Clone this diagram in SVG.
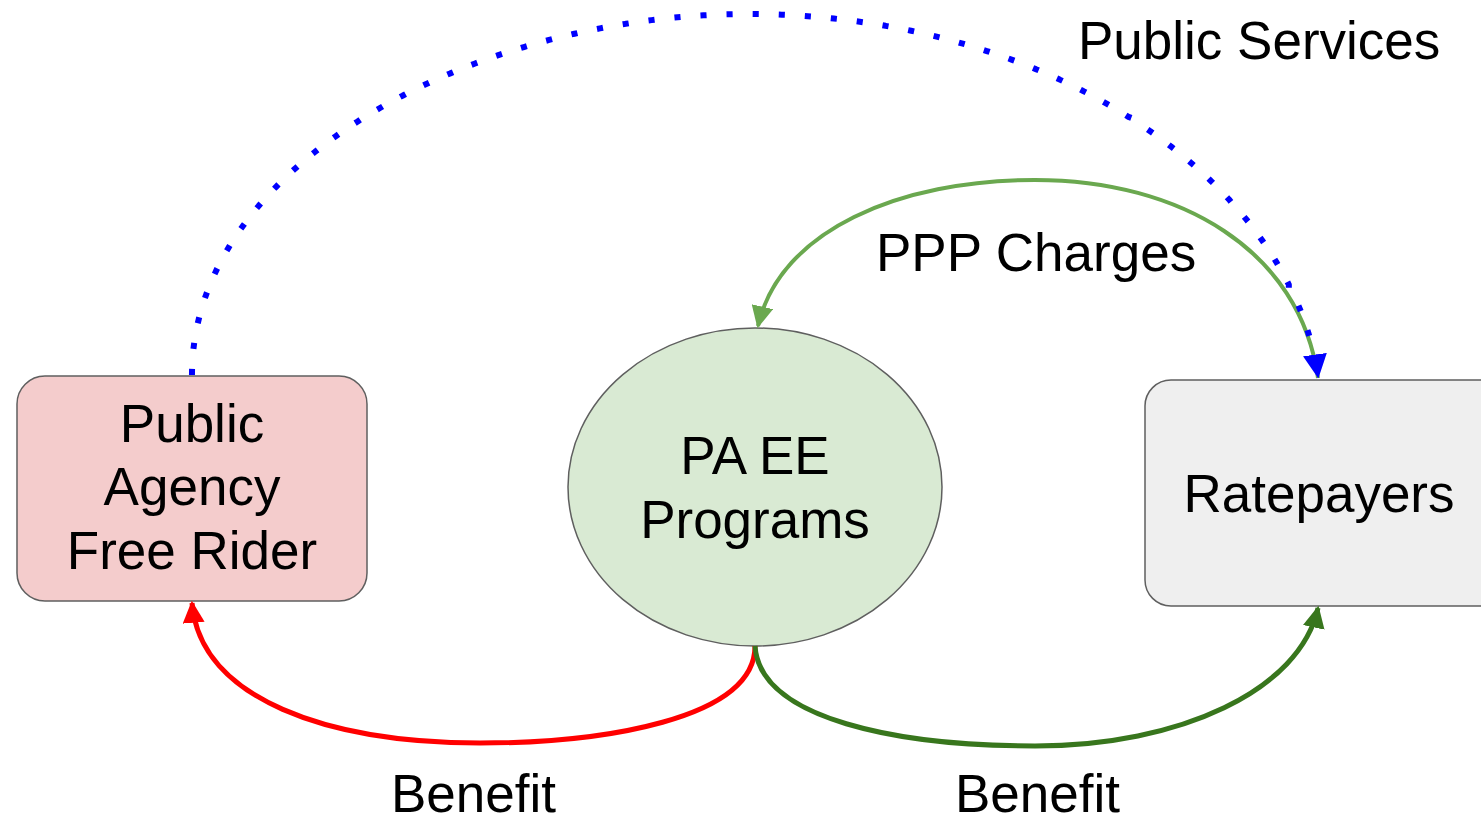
<svg xmlns="http://www.w3.org/2000/svg" width="1481" height="821" viewBox="0 0 1481 821">
  <style>
    .t { font-family: "Liberation Sans", Arial, sans-serif; font-size: 53px; fill: #000; }
    .c { text-anchor: middle; }
    .node { stroke: #5f5f5f; stroke-width: 1.5; }
    .edge { fill: none; }
  </style>
  <defs>
    <marker id="aBlue" viewBox="0 0 20 20" refX="18" refY="10" markerWidth="24" markerHeight="24" markerUnits="userSpaceOnUse" orient="auto">
      <path d="M0,0 L20,10 L0,20 Z" fill="#0000ff"/>
    </marker>
    <marker id="aLG" viewBox="0 0 20 20" refX="18" refY="10" markerWidth="22" markerHeight="22" markerUnits="userSpaceOnUse" orient="auto">
      <path d="M0,0 L20,10 L0,20 Z" fill="#6aa84f"/>
    </marker>
    <marker id="aRed" viewBox="0 0 20 20" refX="18" refY="10" markerWidth="22" markerHeight="22" markerUnits="userSpaceOnUse" orient="auto">
      <path d="M0,0 L20,10 L0,20 Z" fill="#ff0000"/>
    </marker>
    <marker id="aDG" viewBox="0 0 20 20" refX="18" refY="10" markerWidth="22" markerHeight="22" markerUnits="userSpaceOnUse" orient="auto">
      <path d="M0,0 L20,10 L0,20 Z" fill="#38761d"/>
    </marker>
  </defs>
  <rect width="1481" height="821" fill="#ffffff"/>

  <g id="node-free-rider">
    <rect class="node" x="17" y="376" width="350" height="225" rx="28" fill="#f4cccc"/>
    <text class="t c" x="192" y="442">Public</text>
    <text class="t c" x="192" y="505">Agency</text>
    <text class="t c" x="192" y="569">Free Rider</text>
  </g>

  <g id="node-programs">
    <ellipse class="node" cx="755" cy="487" rx="187" ry="159" fill="#d9ead3"/>
    <text class="t c" x="755" y="474">PA EE</text>
    <text class="t c" x="755" y="538">Programs</text>
  </g>

  <g id="node-ratepayers">
    <rect class="node" x="1145" y="380" width="360" height="226" rx="26" fill="#efefef"/>
    <text class="t c" x="1319" y="512">Ratepayers</text>
  </g>

  <g id="connectors">
    <path class="edge" d="M1318,378 C1300,250 1180,180 1035,180 C900,180 780,230 758,326" stroke="#6aa84f" stroke-width="4" marker-end="url(#aLG)"/>
    <path class="edge" d="M192,372 C195,160 480,14 748,14 C1050,14 1290,180 1318,376" stroke="#0000ff" stroke-width="6" stroke-dasharray="0.1 26" stroke-linecap="square" marker-end="url(#aBlue)"/>
    <path class="edge" d="M755,646 C755,720 600,743 480,743 C330,743 200,700 192,603" stroke="#ff0000" stroke-width="5" marker-end="url(#aRed)"/>
    <path class="edge" d="M755,646 C760,720 900,746 1035,746 C1180,746 1300,690 1318,608" stroke="#38761d" stroke-width="5" marker-end="url(#aDG)"/>
  </g>

  <g id="labels">
    <text class="t" x="1078" y="59">Public Services</text>
    <text class="t" x="876" y="271">PPP Charges</text>
    <text class="t" x="391" y="812">Benefit</text>
    <text class="t" x="955" y="812">Benefit</text>
  </g>
</svg>
